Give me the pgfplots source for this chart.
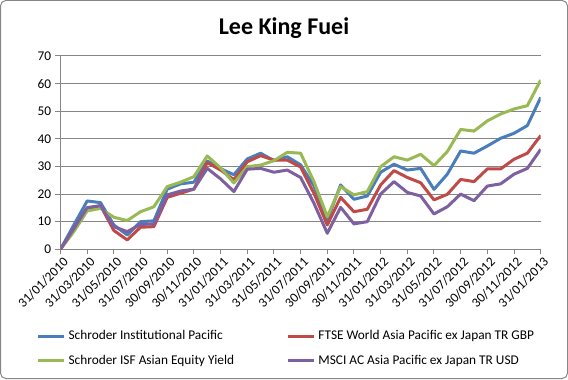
\documentclass[border=0pt]{standalone}
\usepackage{pgfplots}
\pgfplotsset{compat=1.18}
\usepackage{fontspec}
\setmainfont{Carlito}
\definecolor{sBlue}{HTML}{4A7EBB}
\definecolor{sRed}{HTML}{BE4B48}
\definecolor{sGreen}{HTML}{98B954}
\definecolor{sPurple}{HTML}{7D60A0}
\definecolor{gridc}{HTML}{868686}
\begin{document}
\begin{tikzpicture}
\begin{scope}[x=0.75pt,y=0.75pt]
\path[use as bounding box] (0,0) rectangle (568,379);
\draw[gridc, line width=0.75pt, rounded corners=4pt] (0.5,0.5) rectangle (567.5,378.5);
\node[anchor=base, font=\fontsize{18}{21}\selectfont\bfseries, inner sep=0pt] at (284,344.7) {Lee King Fuei};
\end{scope}
\begin{axis}[
  at={(45.375pt,97.275pt)}, anchor=south west,
  scale only axis, width=360.15pt, height=145pt,
  xmin=0, xmax=36, ymin=0, ymax=70,
  xtick={0,2,...,36},
  xticklabels={31/01/2010,31/03/2010,31/05/2010,31/07/2010,30/09/2010,30/11/2010,31/01/2011,31/03/2011,31/05/2011,31/07/2011,30/09/2011,30/11/2011,31/01/2012,31/03/2012,31/05/2012,31/07/2012,30/09/2012,30/11/2012,31/01/2013},
  ytick={0,10,...,70},
  axis x line=bottom, axis y line=left,
  axis line style={-, draw=gridc, line width=0.75pt},
  ymajorgrids, grid style={draw=gridc, line width=0.75pt},
  tick align=outside, major tick length=3.75pt,
  tick style={draw=gridc, line width=0.75pt},
  /pgf/number format/assume math mode=true,
  ticklabel style={font=\fontsize{10}{12}\selectfont},
  xticklabel style={rotate=45, anchor=north east, inner sep=1pt, xshift=1pt, yshift=-1pt},
  yticklabel style={inner sep=1pt, xshift=-2pt},
  legend columns=2,
  legend style={draw=none, fill=none, at={(-0.051,-0.513)}, anchor=west,
    font=\fontsize{10}{12}\selectfont, inner sep=0pt, row sep=6pt,
    /tikz/every even column/.append style={column sep=37pt}},
  legend cell align=left,
  legend image code/.code={\draw[#1] (0pt,0pt) -- (20pt,0pt);},
  every axis plot/.append style={line width=2.25pt, line join=round, mark=none},
]
\addplot[sBlue] coordinates {(0,0)(1,8.8)(2,17.5)(3,16.9)(4,8.8)(5,5.2)(6,10)(7,10.3)(8,21.8)(9,23.7)(10,24.3)(11,32)(12,29.2)(13,27)(14,32.7)(15,34.8)(16,32.1)(17,33.5)(18,30.6)(19,23)(20,10.6)(21,23.3)(22,18.1)(23,19.3)(24,27.9)(25,30.8)(26,28.7)(27,29.3)(28,21.7)(29,27.2)(30,35.6)(31,34.8)(32,37.4)(33,40.2)(34,42)(35,44.8)(36,55)};
\addlegendentry{Schroder Institutional Pacific}
\addplot[sRed] coordinates {(0,0)(1,7.5)(2,14.8)(3,15.8)(4,6.8)(5,3.4)(6,8)(7,8.2)(8,18.8)(9,20.3)(10,21.8)(11,31.4)(12,28.7)(13,25.2)(14,31.7)(15,33.9)(16,32.3)(17,32.3)(18,29.8)(19,20.3)(20,8.8)(21,18.8)(22,13.6)(23,14.5)(24,23.3)(25,28.5)(26,26)(27,24.1)(28,17.9)(29,19.9)(30,25.3)(31,24.5)(32,29.1)(33,29.1)(34,32.6)(35,34.8)(36,41.2)};
\addlegendentry{FTSE World Asia Pacific ex Japan TR GBP}
\addplot[sGreen] coordinates {(0,0)(1,6.4)(2,13.9)(3,14.8)(4,11.6)(5,10.4)(6,13.6)(7,15.4)(8,22.7)(9,24.3)(10,26.3)(11,33.8)(12,29.5)(13,24)(14,29.9)(15,30.5)(16,32.1)(17,35.1)(18,34.8)(19,24.5)(20,11.8)(21,22.7)(22,19.7)(23,20.9)(24,29.9)(25,33.5)(26,32.3)(27,34.4)(28,30.3)(29,35.4)(30,43.4)(31,42.8)(32,46.5)(33,49)(34,50.8)(35,52)(36,61.3)};
\addlegendentry{Schroder ISF Asian Equity Yield}
\addplot[sPurple] coordinates {(0,0)(1,7.5)(2,15.1)(3,15.8)(4,8.2)(5,6.4)(6,9)(7,9.2)(8,19.7)(9,21.1)(10,21.8)(11,29.3)(12,25.5)(13,20.9)(14,29)(15,29.3)(16,27.9)(17,28.7)(18,26)(19,16.7)(20,5.8)(21,15.2)(22,9.2)(23,10)(24,20)(25,24.5)(26,20.6)(27,19.3)(28,12.8)(29,15.4)(30,20)(31,17.6)(32,22.9)(33,23.7)(34,27.2)(35,29.3)(36,36.2)};
\addlegendentry{MSCI AC Asia Pacific ex Japan TR USD}
\end{axis}
\end{tikzpicture}
\end{document}
